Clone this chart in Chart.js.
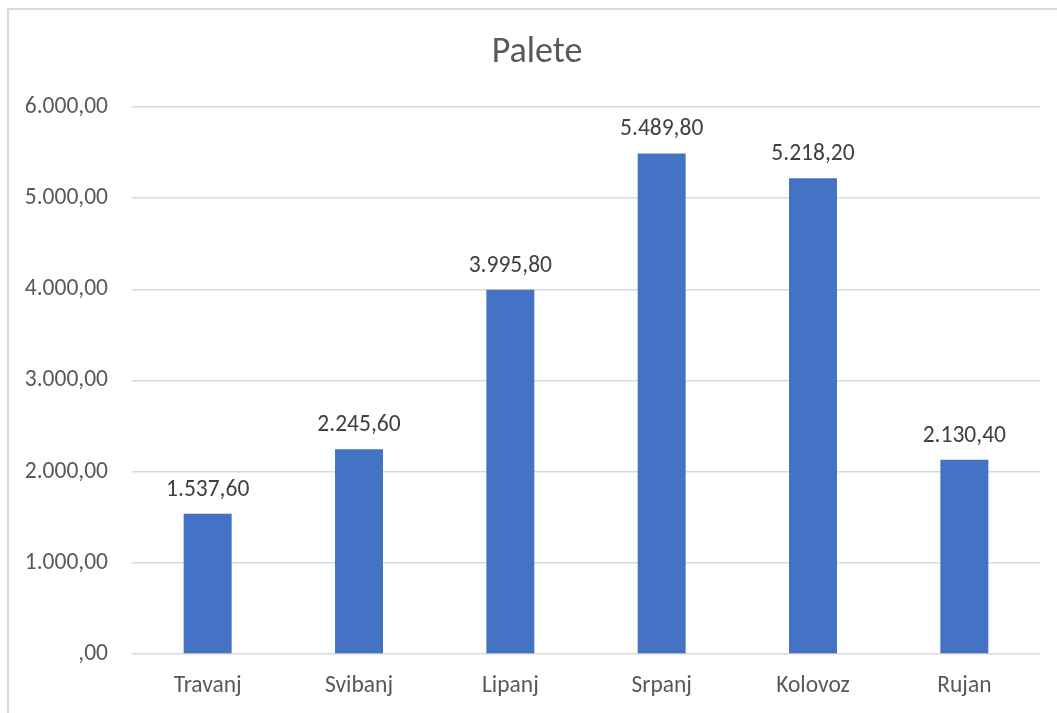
<!DOCTYPE html>
<html>
<head>
<meta charset="utf-8">
<script src="https://cdn.jsdelivr.net/npm/chart.js@4/dist/chart.umd.min.js"></script>
<style>
html,body{margin:0;padding:0;background:#fff;}
#wrap{width:1057px;height:713px;position:relative;}
</style>
</head>
<body>
<div id="wrap"><canvas id="c" width="1057" height="713"></canvas></div>
<script>
const categories = ["Travanj", "Svibanj", "Lipanj", "Srpanj", "Kolovoz", "Rujan"];
const values = [1537.6, 2245.6, 3995.8, 5489.8, 5218.2, 2130.4];
const titleText = "Palete";
const yMin = 0, yMax = 6000, yStep = 1000;

const FONT = "Carlito, Lato, 'Liberation Sans', sans-serif";
const TXT = 23.5;

function fmt(v) {
  const neg = v < 0;
  v = Math.abs(v);
  let s = v.toFixed(2);
  let [ip, dp] = s.split(".");
  if (ip === "0") ip = "";
  ip = ip.replace(/\B(?=(\d{3})+(?!\d))/g, ".");
  return (neg ? "-" : "") + ip + "," + dp;
}

const borderPlugin = {
  id: "outerBorder",
  beforeDraw(chart) {
    const ctx = chart.ctx;
    ctx.save();
    ctx.fillStyle = "#ffffff";
    ctx.fillRect(0, 0, chart.width, chart.height);
    ctx.strokeStyle = "#d9d9d9";
    ctx.lineWidth = 2;
    ctx.strokeRect(8, 9, chart.width + 20, chart.height + 20);
    ctx.restore();
  },
  afterDraw(chart) {
    const ctx = chart.ctx;
    ctx.save();
    ctx.font = "36px " + FONT;
    ctx.fillStyle = "#595959";
    ctx.textAlign = "center";
    ctx.textBaseline = "middle";
    ctx.fillText(titleText, 537, 53);
    ctx.restore();
  }
};

const labelPlugin = {
  id: "barLabels",
  afterDatasetsDraw(chart) {
    const ctx = chart.ctx;
    const meta = chart.getDatasetMeta(0);
    ctx.save();
    ctx.font = TXT + "px " + FONT;
    ctx.fillStyle = "#404040";
    ctx.textAlign = "center";
    ctx.textBaseline = "middle";
    meta.data.forEach((bar, i) => {
      ctx.fillText(fmt(chart.data.datasets[0].data[i]), bar.x, bar.y - 24);
    });
    ctx.restore();
  }
};

new Chart(document.getElementById("c"), {
  type: "bar",
  data: {
    labels: categories,
    datasets: [{
      data: values,
      backgroundColor: "#4472C4",
      borderWidth: 0,
      categoryPercentage: 1,
      barPercentage: 0.317
    }]
  },
  options: {
    responsive: false,
    animation: false,
    devicePixelRatio: 1,
    layout: { padding: { left: 0, right: 17, top: 107, bottom: 0 } },
    plugins: {
      legend: { display: false },
      tooltip: { enabled: false },
      title: { display: false }
    },
    scales: {
      x: {
        grid: { display: false, drawTicks: false },
        border: { display: false },
        ticks: { color: "#595959", font: { family: FONT, size: TXT }, padding: 18 },
        afterFit(scale) { scale.height = 59; }
      },
      y: {
        min: yMin, max: yMax,
        grid: { color: "#d9d9d9", lineWidth: 1.5, drawTicks: false },
        border: { display: false },
        ticks: {
          stepSize: yStep,
          color: "#595959",
          font: { family: FONT, size: TXT },
          padding: 24,
          callback: (v) => fmt(v)
        },
        afterFit(scale) { scale.width = 132; }
      }
    }
  },
  plugins: [borderPlugin, labelPlugin]
});
</script>
</body>
</html>
